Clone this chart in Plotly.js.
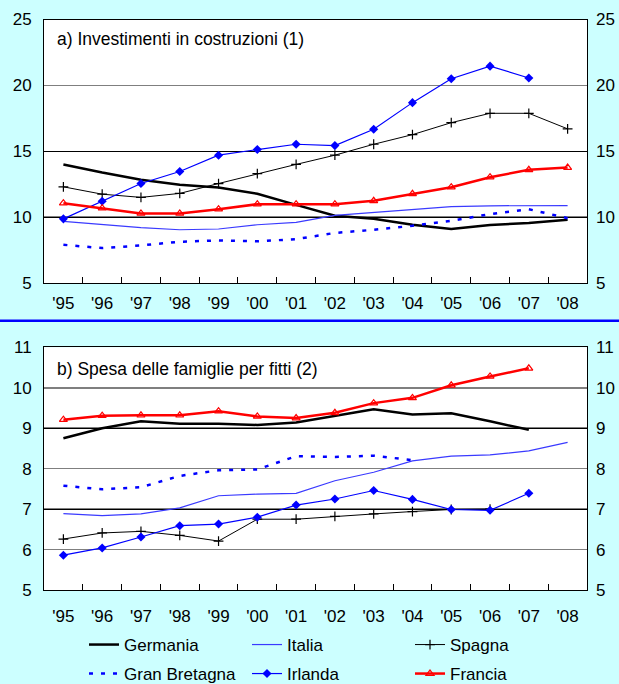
<!DOCTYPE html>
<html>
<head>
<meta charset="utf-8">
<script src="https://cdn.plot.ly/plotly-3.0.1.min.js"></script>
<style>html,body{margin:0;padding:0;background:#ccffff;}#chart{width:619px;height:684px;}</style>
</head>
<body>
<div id="chart"></div>
<script>
const years = ["'95","'96","'97","'98","'99","'00","'01","'02","'03","'04","'05","'06","'07","'08"];

// a) Investimenti in costruzioni (1)
const invGermania = [14.0,13.38,12.83,12.45,12.25,11.77,10.93,10.1,9.87,9.42,9.1,9.4,9.55,9.8];
const invItalia   = [9.67,9.42,9.2,9.04,9.1,9.42,9.6,10.13,10.35,10.55,10.8,10.86,10.88,10.88];
const invSpagna   = [12.3,11.74,11.5,11.8,12.55,13.3,14.0,14.7,15.53,16.26,17.17,17.88,17.88,16.7];
const invGB       = [7.9,7.65,7.85,8.13,8.23,8.16,8.33,8.8,9.04,9.34,9.72,10.23,10.6,9.92];
const invIrlanda  = [9.87,11.2,12.55,13.46,14.7,15.13,15.53,15.43,16.67,18.69,20.5,21.46,20.56,null];
const invFrancia  = [11.06,10.68,10.28,10.28,10.6,10.98,10.98,10.98,11.24,11.77,12.27,13.03,13.59,13.76];

// b) Spesa delle famiglie per fitti (2)
const fitGermania = [8.75,9.0,9.17,9.11,9.11,9.08,9.14,9.3,9.47,9.34,9.37,9.17,8.96,null];
const fitItalia   = [6.89,6.84,6.88,7.03,7.33,7.37,7.39,7.7,7.91,8.19,8.31,8.34,8.44,8.65];
const fitSpagna   = [6.26,6.41,6.45,6.35,6.21,6.75,6.75,6.82,6.88,6.94,6.99,7.0,null,null];
const fitGB       = [7.58,7.49,7.54,7.82,7.96,7.98,8.31,8.29,8.32,8.21,null,null,null,null];
const fitIrlanda  = [5.86,6.04,6.31,6.59,6.63,6.8,7.1,7.25,7.46,7.24,6.99,6.97,7.39,null];
const fitFrancia  = [9.21,9.31,9.32,9.32,9.42,9.29,9.25,9.38,9.62,9.75,10.06,10.28,10.48,null];

const seriesNames = ["Germania","Italia","Spagna","Gran Bretagna","Irlanda","Francia"];

const styles = [
  {line:{color:'#000000',width:2.5}, mode:'lines'},
  {line:{color:'#3a3aff',width:1.2}, mode:'lines'},
  {line:{color:'#000000',width:1}, mode:'lines+markers', marker:{symbol:'cross-thin-open',size:7,line:{color:'#000000',width:1.2}}},
  {line:{color:'#0000ff',width:2.5,dash:'4px,8px'}, mode:'lines'},
  {line:{color:'#0000ff',width:1.2}, mode:'lines+markers', marker:{symbol:'diamond',size:7,color:'#0000ff'}},
  {line:{color:'#ff0000',width:2.5}, mode:'lines+markers', marker:{symbol:'triangle-up-open',size:7,color:'#ff0000',line:{width:1.2,color:'#ff0000'}}}
];

const topData = [invGermania,invItalia,invSpagna,invGB,invIrlanda,invFrancia];
const botData = [fitGermania,fitItalia,fitSpagna,fitGB,fitIrlanda,fitFrancia];

const traces = [];
topData.forEach((ys,i)=>{
  traces.push(Object.assign({type:'scatter', x:years, y:ys, name:seriesNames[i], xaxis:'x', yaxis:'y',
    legend: i<3 ? 'legend' : 'legend2', connectgaps:false}, styles[i]));
});
botData.forEach((ys,i)=>{
  traces.push(Object.assign({type:'scatter', x:years, y:ys, name:seriesNames[i], xaxis:'x2', yaxis:'y2',
    showlegend:false, connectgaps:false}, styles[i]));
});
// empty traces to anchor right-hand mirror axes and the dark grid overlays
['y3','y4','y5','y6'].forEach((ya,i)=>{
  traces.push({type:'scatter', x:[], y:[], xaxis: (i%2===0)?'x':'x2', yaxis:ya, showlegend:false, hoverinfo:'skip'});
});

const W=619, H=684;
const font = {family:'Liberation Sans, Arial, sans-serif', size:17, color:'#000000'};
const xDom = [44/W, 587/W];
const topDom = [1-283/H, 1-19.5/H];
const botDom = [1-590/H, 1-347.3/H];

const xCommon = {type:'category', categoryorder:'array', categoryarray:years, range:[-0.5,13.5],
  tickson:'boundaries', ticks:'inside', ticklen:6, tickcolor:'#000', tickwidth:1,
  showgrid:false, showline:true, mirror:true, linecolor:'#000', linewidth:1, zeroline:false,
  tickfont:font, domain:xDom, fixedrange:true};
const yCommon = {showline:true, mirror:true, linecolor:'#000', linewidth:1, ticks:'', zeroline:false,
  showgrid:true, gridcolor:'#7f7f7f', gridwidth:1.5, tickfont:font, ticklabelstandoff:8};
const yRight = {side:'right', showgrid:false, zeroline:false, showline:false, ticks:'', tickfont:font, ticklabelstandoff:8};
const yDark = {showgrid:true, gridcolor:'#000000', gridwidth:1, zeroline:false, showline:false, ticks:'', showticklabels:false};

const legFont = {family:font.family,size:17,color:'#000'};
const layout = {
  width:W, height:H,
  margin:{l:0,r:0,t:0,b:0,autoexpand:false},
  paper_bgcolor:'#ccffff', plot_bgcolor:'#ffffff',
  font:font,
  xaxis: Object.assign({}, xCommon, {anchor:'y', ticklabelstandoff:5}),
  xaxis2: Object.assign({}, xCommon, {anchor:'y2', ticklabelstandoff:11}),
  yaxis: Object.assign({}, yCommon, {domain:topDom, range:[5,25], dtick:5, tick0:5, anchor:'x'}),
  yaxis2: Object.assign({}, yCommon, {domain:botDom, range:[5,11], dtick:1, tick0:5, anchor:'x2'}),
  yaxis3: Object.assign({}, yRight, {overlaying:'y', anchor:'x', range:[5,25], dtick:5, tick0:5}),
  yaxis4: Object.assign({}, yRight, {overlaying:'y2', anchor:'x2', range:[5,11], dtick:1, tick0:5}),
  yaxis5: Object.assign({}, yDark, {overlaying:'y', anchor:'x', range:[5,25], tickmode:'array', tickvals:[10,15]}),
  yaxis6: Object.assign({}, yDark, {overlaying:'y2', anchor:'x2', range:[5,11], tickmode:'array', tickvals:[7,9]}),
  legend: {orientation:'h', x:84/W, xanchor:'left', y:1-627/H, yanchor:'top', bgcolor:'rgba(0,0,0,0)',
    font:legFont, entrywidth:118, entrywidthmode:'pixels', itemwidth:30, traceorder:'normal'},
  legend2: {orientation:'h', x:84/W, xanchor:'left', y:1-656/H, yanchor:'top', bgcolor:'rgba(0,0,0,0)',
    font:legFont, entrywidth:118, entrywidthmode:'pixels', itemwidth:30, traceorder:'normal'},
  annotations: [
    {text:'a) Investimenti in costruzioni (1)', xref:'paper', yref:'paper', x:55/W, y:1-39/H, xanchor:'left', yanchor:'middle', showarrow:false, font:Object.assign({}, font, {size:17.5})},
    {text:'b) Spesa delle famiglie per fitti (2)', xref:'paper', yref:'paper', x:55/W, y:1-369/H, xanchor:'left', yanchor:'middle', showarrow:false, font:Object.assign({}, font, {size:17.5})}
  ],
  shapes: [
    {type:'line', xref:'paper', yref:'paper', x0:0, x1:1, y0:1-320.7/H, y1:1-320.7/H, line:{color:'#0000ff', width:2.5}}
  ]
};

Plotly.newPlot('chart', traces, layout, {staticPlot:true, displayModeBar:false});
</script>
</body>
</html>
